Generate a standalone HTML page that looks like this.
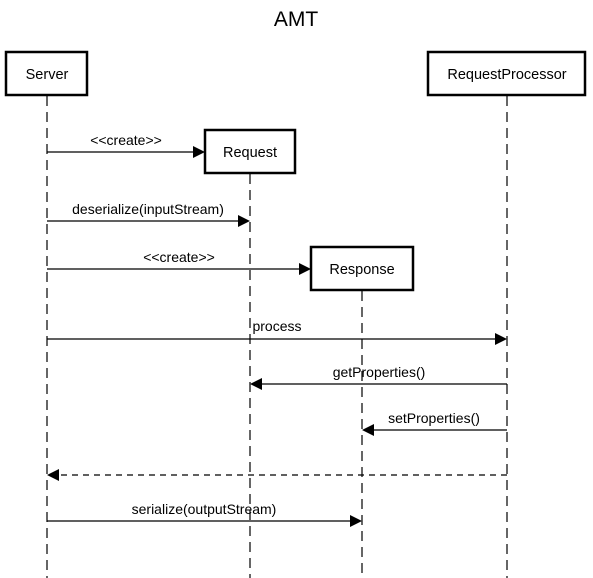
<!DOCTYPE html>
<html><head><meta charset="utf-8"><style>
html,body{margin:0;padding:0;background:#fff;}
svg{display:block;}
text{font-family:"Liberation Sans",Arial,sans-serif;fill:#000;}
</style></head><body>
<svg width="593" height="578" viewBox="0 0 593 578" xmlns="http://www.w3.org/2000/svg">
<text x="296" y="26" font-size="21" text-anchor="middle">AMT</text>
<g stroke="#333" stroke-width="1.5" stroke-dasharray="10,6" fill="none">
<line x1="47" y1="96" x2="47" y2="578"/>
<line x1="507" y1="96" x2="507" y2="578"/>
<line x1="250" y1="174" x2="250" y2="578"/>
<line x1="362" y1="291" x2="362" y2="578"/>
</g>
<g stroke="#000" stroke-width="2.5" fill="#fff">
<rect x="6" y="52" width="81" height="43"/>
<rect x="428" y="52" width="157" height="43"/>
<rect x="205" y="130" width="90" height="43"/>
<rect x="311" y="247" width="102" height="43"/>
</g>
<g font-size="14.5" text-anchor="middle">
<text x="47" y="79">Server</text>
<text x="507" y="79">RequestProcessor</text>
<text x="250" y="157">Request</text>
<text x="362" y="274">Response</text>
</g>
<g stroke="#000" stroke-width="1.2" fill="none">
<line x1="47" y1="152" x2="193" y2="152"/>
<line x1="47" y1="221" x2="239" y2="221"/>
<line x1="47" y1="269" x2="299" y2="269"/>
<line x1="47" y1="339" x2="495" y2="339"/>
<line x1="507" y1="384" x2="262" y2="384"/>
<line x1="507" y1="430" x2="374" y2="430"/>
<line x1="507" y1="475" x2="59" y2="475" stroke-dasharray="6,5"/>
<line x1="47" y1="521" x2="350" y2="521"/>
</g>
<g fill="#000">
<polygon points="205,152 193,146 193,158"/>
<polygon points="250,221 238,215 238,227"/>
<polygon points="311,269 299,263 299,275"/>
<polygon points="507,339 495,333 495,345"/>
<polygon points="250,384 262,378 262,390"/>
<polygon points="362,430 374,424 374,436"/>
<polygon points="47,475 59,469 59,481"/>
<polygon points="362,521 350,515 350,527"/>
</g>
<g font-size="14" text-anchor="middle">
<rect x="251" y="318" width="54" height="15" fill="#fff"/>
<text x="126" y="145">&lt;&lt;create&gt;&gt;</text>
<text x="148" y="214">deserialize(inputStream)</text>
<text x="179" y="262">&lt;&lt;create&gt;&gt;</text>
<text x="277" y="331">process</text>
<text x="379" y="377">getProperties()</text>
<text x="434" y="423">setProperties()</text>
<text x="204" y="514">serialize(outputStream)</text>
</g>
</svg>
</body></html>
